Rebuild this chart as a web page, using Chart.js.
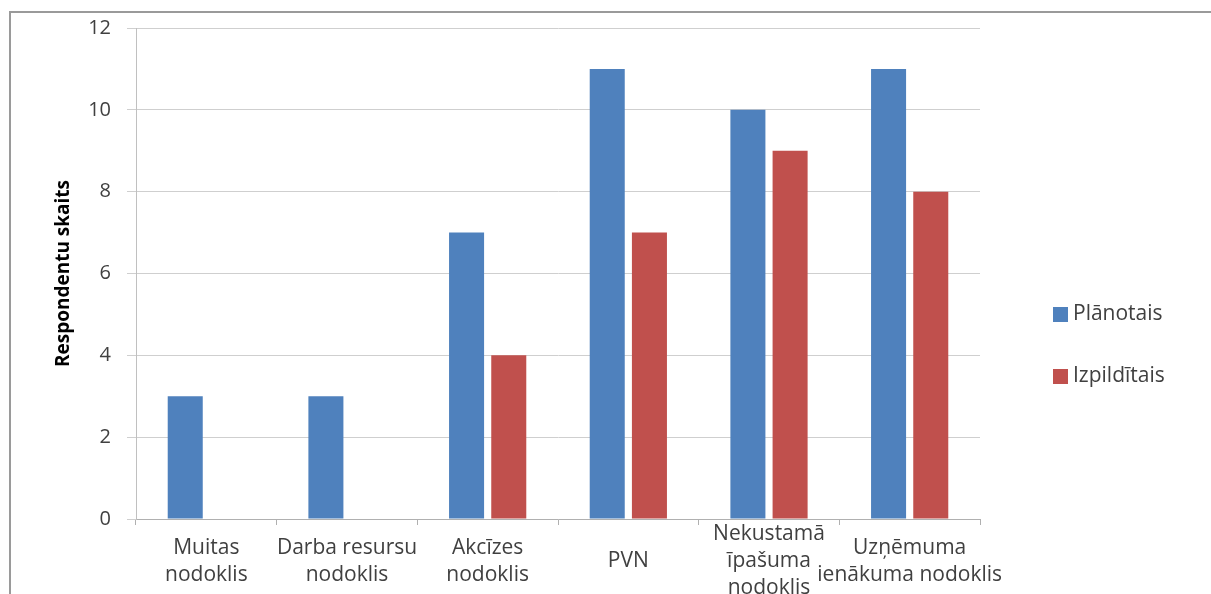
<!DOCTYPE html>
<html>
<head>
<meta charset="utf-8">
<script src="https://cdn.jsdelivr.net/npm/chart.js@4/dist/chart.umd.min.js"></script>
<style>
  html, body { margin: 0; padding: 0; background: #fff; overflow: hidden; }
  #wrap { position: absolute; left: 0; top: 0; width: 1211px; height: 620px; }
</style>
</head>
<body>
<div id="wrap"><canvas id="c"></canvas></div>
<script>
// Tax categories (multi-line labels) and respondent counts
const categories = [
  ["Muitas", "nodoklis"],
  ["Darba resursu", "nodoklis"],
  ["Akcīzes", "nodoklis"],
  "PVN",
  ["Nekustamā", "īpašuma", "nodoklis"],
  ["Uzņēmuma", "ienākuma nodoklis"]
];
const planned = [3, 3, 7, 11, 10, 11];
const fulfilled = [0, 0, 4, 7, 9, 8];
const seriesNames = ["Plānotais", "Izpildītais"];
const seriesColors = ["#4F81BD", "#C0504D"];
const yTitle = "Respondentu skaits";

const FONT = "'Open Sans', 'DejaVu Sans', sans-serif";
const TEXT = "#404040";

// Outer frame plus a legend drawn from the dataset labels/colours
const framePlugin = {
  id: 'frame',
  beforeDraw(chart) {
    const ctx = chart.ctx;
    ctx.save();
    ctx.strokeStyle = '#9a9a9a';
    ctx.lineWidth = 2;
    ctx.beginPath();
    ctx.moveTo(10, 620);
    ctx.lineTo(10, 12);
    ctx.lineTo(1211, 12);
    ctx.stroke();
    ctx.restore();
  },
  afterDraw(chart) {
    const ctx = chart.ctx;
    ctx.save();
    chart.data.datasets.forEach((ds, i) => {
      const cy = 314.5 + i * 62;
      ctx.fillStyle = ds.backgroundColor;
      ctx.fillRect(1053, cy - 7.5, 15, 15);
      ctx.fillStyle = TEXT;
      ctx.font = "21px " + FONT;
      ctx.textBaseline = 'middle';
      ctx.textAlign = 'left';
      ctx.fillText(ds.label, 1073, cy);
    });
    ctx.restore();
  }
};

new Chart(document.getElementById('c'), {
  type: 'bar',
  data: {
    labels: categories,
    datasets: [
      { label: seriesNames[0], data: planned, backgroundColor: seriesColors[0] },
      { label: seriesNames[1], data: fulfilled, backgroundColor: seriesColors[1] }
    ]
  },
  options: {
    responsive: true,
    maintainAspectRatio: false,
    animation: false,
    categoryPercentage: 0.6,
    barPercentage: 0.83,
    layout: { padding: { top: 26, right: 231, left: 0, bottom: 0 } },
    plugins: {
      legend: { display: false },
      tooltip: { enabled: false }
    },
    scales: {
      x: {
        afterFit(s) { s.height = 101; },
        grid: {
          display: true,
          drawOnChartArea: false,
          drawTicks: true,
          tickLength: 6,
          color: '#b0b0b0'
        },
        border: { display: true, color: '#b0b0b0', width: 1 },
        ticks: {
          color: TEXT,
          font: { family: FONT, size: 21, lineHeight: 1.29 },
          padding: 9,
          maxRotation: 0,
          autoSkip: false,
          crossAlign: 'center'
        }
      },
      y: {
        min: 0,
        max: 12,
        afterFit(s) { s.width = 136; },
        grid: {
          color: '#cfcfcf',
          drawTicks: true,
          tickLength: 9
        },
        border: { display: true, color: '#c0c0c0', width: 1 },
        ticks: {
          stepSize: 2,
          color: TEXT,
          padding: 16,
          font: { family: FONT, size: 20 }
        },
        title: {
          display: true,
          text: yTitle,
          color: '#000',
          font: { family: FONT, size: 19, weight: 'bold' },
          padding: { top: 52, bottom: 0 }
        }
      }
    }
  },
  plugins: [framePlugin]
});
</script>
</body>
</html>
